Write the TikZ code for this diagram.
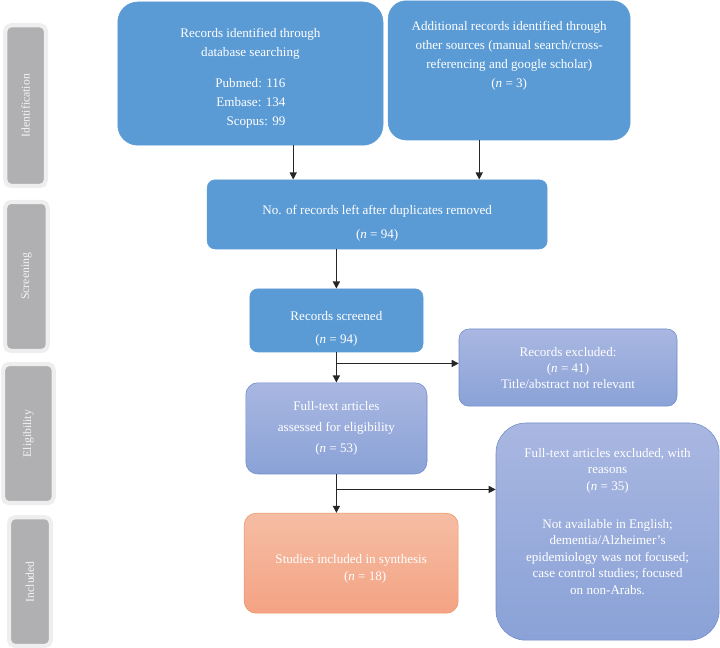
\documentclass[tikz,border=0pt]{standalone}
\usepackage{fontspec}
\setmainfont{Liberation Serif}
\usetikzlibrary{arrows.meta,positioning}

\definecolor{boxblue}{HTML}{5B9BD5}
\definecolor{lavtop}{HTML}{A9B7E1}
\definecolor{lavbot}{HTML}{8AA2D7}
\definecolor{lavline}{HTML}{6F8BCB}
\definecolor{saltop}{HTML}{F5BDA4}
\definecolor{salbot}{HTML}{F4A383}
\definecolor{salline}{HTML}{EE9462}
\definecolor{stagegray}{HTML}{B0B0B2}
\definecolor{stagerim}{HTML}{EEEEEE}

\newcommand{\boxfont}[1]{\fontsize{9.3}{#1}\selectfont}

\begin{document}
\begin{tikzpicture}[
    flowbox/.style={align=center, text=white, inner sep=0pt},
    bluebox/.style={flowbox, fill=boxblue, draw=boxblue},
    lavbox/.style={flowbox, top color=lavtop, bottom color=lavbot, draw=lavline},
    salbox/.style={flowbox, top color=saltop, bottom color=salbot, draw=salline},
    boxtext/.style={align=center, text=white, inner sep=0pt},
    stagebar/.style={fill=stagegray, draw=stagerim, line width=3pt, rounded corners=4pt, inner sep=0pt},
    stagetext/.style={rotate=90, text=white!92!gray, font=\fontsize{8.3}{10}\selectfont},
    arr/.style={-{Triangle[length=5pt,width=5pt]}, line width=0.9pt, draw=black!85}
]
    \useasboundingbox (0,0) rectangle (18,-16.2);

    % stages on the left
    \foreach \cx/\cy/\w/\h/\stage [count=\i] in {0.64/-2.64/1.12/4.12/Identification, 0.66/-6.91/1.17/3.83/Screening, 0.71/-10.84/1.37/3.58/Eligibility, 0.75/-14.54/1.15/3.32/Included}
    {
        \node[stagebar, minimum width=\w cm-3pt, minimum height=\h cm-3pt] (stage\i) at (\cx,\cy) {};
        \node[stagetext] (stagelbl\i) at (stage\i) {\stage};
    }

    % identification
    \node[bluebox, rounded corners=0.5cm, minimum width=6.63cm, minimum height=3.58cm, font=\boxfont{13.5}] (recdb) at (6.26,-1.84)
        {\rule{0pt}{15pt}Records identified through\\database searching\\[10pt]\begin{tabular}{@{}r@{}}Pubmed: 116\\Embase: 134\\Scopus: 99\end{tabular}};
    \node[bluebox, rounded corners=0.45cm, minimum width=6.05cm, minimum height=3.48cm] (recother) at (12.73,-1.76) {};
    \node[boxtext, below=0.52cm of recother.north, font=\boxfont{13.5}] (recothertxt)
        {Additional records identified through\\other sources (manual search/cross-\\referencing and google scholar)\\(\textit{n} = 3)};

    % screening
    \node[bluebox, rounded corners=0.2cm, minimum width=8.5cm, minimum height=1.73cm, font=\boxfont{17}] (dedup) at (9.43,-5.36)
        {\rule{0pt}{19pt}No. of records left after duplicates removed\\(\textit{n} = 94)};
    \node[bluebox, rounded corners=0.2cm, minimum width=4.33cm, minimum height=1.58cm, font=\boxfont{16.3}] (screened) at (8.41,-8.01)
        {\rule{0pt}{19pt}Records screened\\(\textit{n} = 94)};
    \node[lavbox, rounded corners=0.25cm, minimum width=5.45cm, minimum height=1.93cm, font=\boxfont{11.4}] (excl) at (14.2,-9.19)
        {Records excluded:\\(\textit{n} = 41)\\Title/abstract not relevant};

    % eligibility
    \node[lavbox, rounded corners=0.3cm, minimum width=4.53cm, minimum height=2.28cm, font=\boxfont{15}] (fulltext) at (8.41,-10.71)
        {Full-text articles\\assessed for eligibility\\(\textit{n} = 53)};
    \node[lavbox, rounded corners=0.75cm, minimum width=5.58cm, minimum height=5.43cm] (ftexcl) at (15.19,-13.29) {};
    \node[boxtext, below=0.63cm of ftexcl.north, font=\boxfont{11.8}] (ftexcltxt)
        {Full-text articles excluded, with\\reasons\\(\textit{n} = 35)\\[15pt]Not available in English;\\dementia/Alzheimer's\\epidemiology was not focused;\\case control studies; focused\\on non-Arabs.};

    % included
    \node[salbox, rounded corners=0.3cm, minimum width=5.35cm, minimum height=2.5cm, font=\boxfont{12}] (included) at (8.78,-14.08)
        {\rule{0pt}{15pt}Studies included in synthesis\\\hspace*{0.7cm}(\textit{n} = 18)};

    % arrows
    \draw[arr] ([xshift=1.07cm]recdb.south) -- ([xshift=1.07cm]recdb.south |- dedup.north);
    \draw[arr] ([xshift=-0.75cm]recother.south) -- ([xshift=-0.75cm]recother.south |- dedup.north);
    \draw[arr] (screened.north |- dedup.south) -- (screened.north);
    \draw[arr] (screened.south) -- (fulltext.north);
    \draw[arr] (fulltext.south) -- (fulltext.south |- included.north);

    \coordinate (split1) at ([yshift=-0.28cm]screened.south);
    \coordinate (split2) at ([yshift=-0.38cm]fulltext.south);
    \draw[arr] (split1) -- (split1 -| excl.west);
    \draw[arr] (split2) -- (split2 -| ftexcl.west);
\end{tikzpicture}
\end{document}
